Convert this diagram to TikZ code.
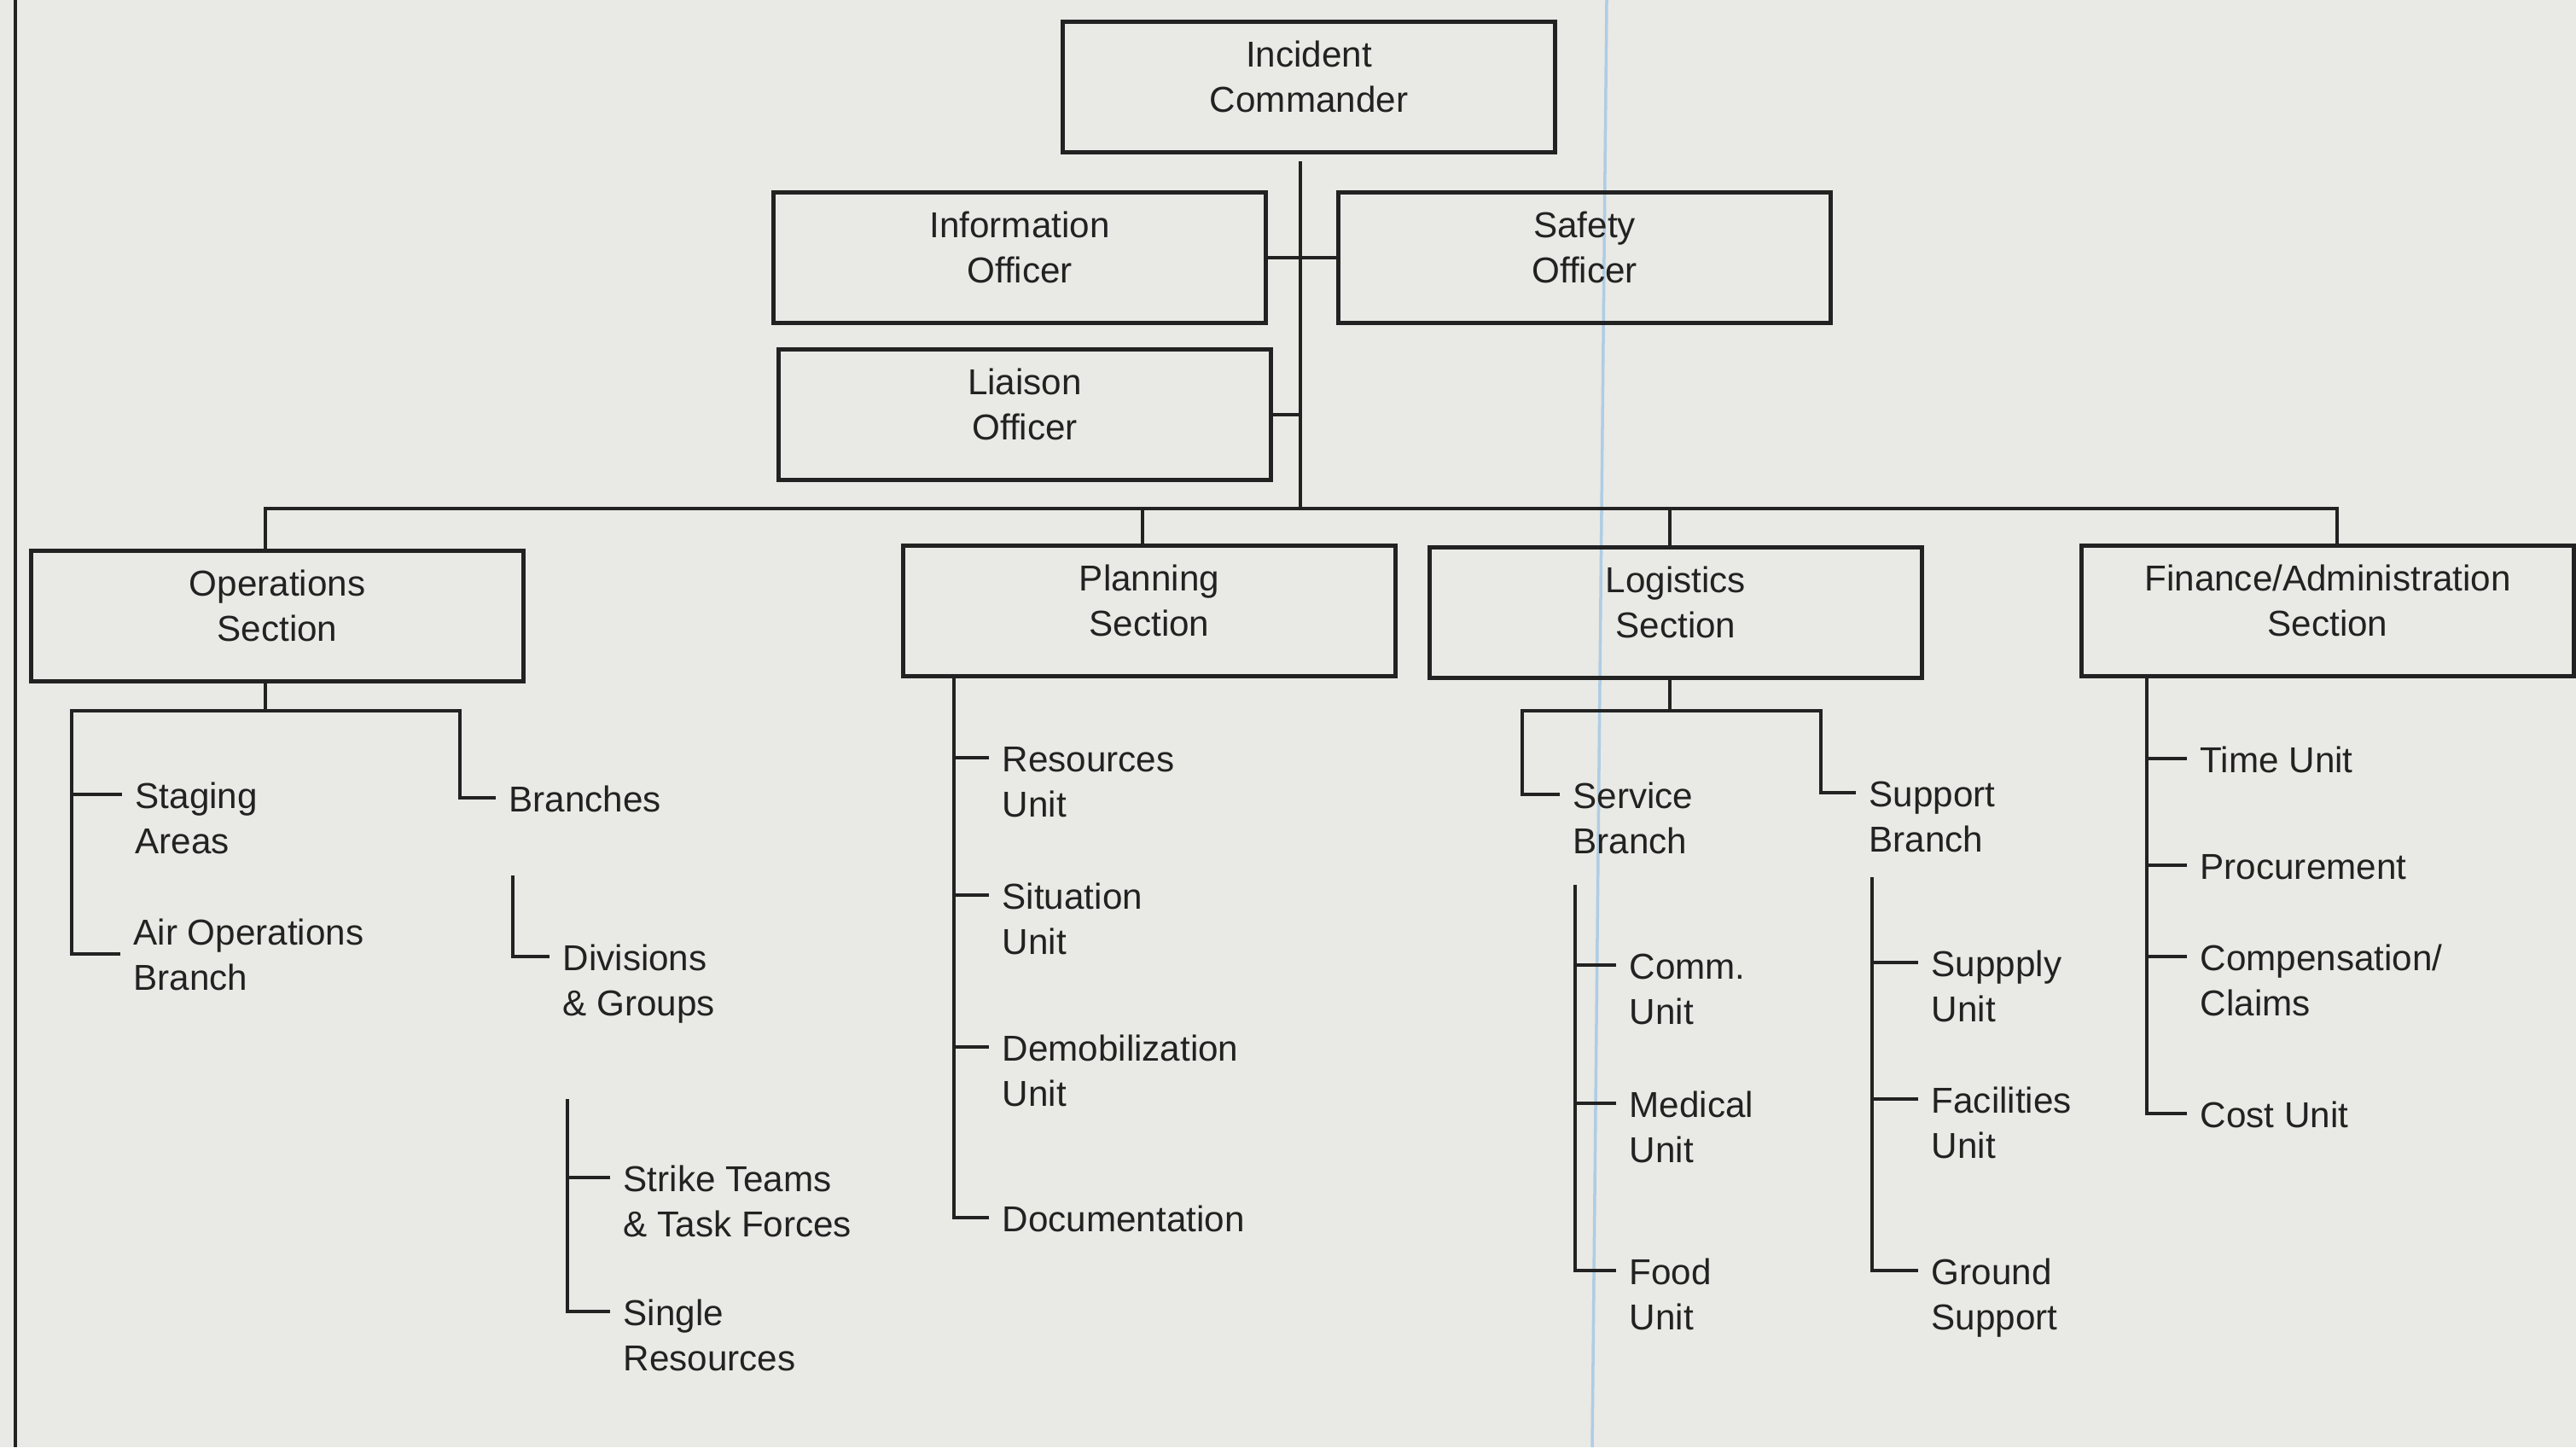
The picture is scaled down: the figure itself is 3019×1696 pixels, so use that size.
\documentclass[tikz,border=0pt]{standalone}
\usepackage{fontspec}
\setmainfont{Liberation Sans}
\usetikzlibrary{calc}
\definecolor{paper}{RGB}{233,233,229}
\definecolor{ink}{RGB}{34,34,34}
\definecolor{scanblue}{RGB}{175,205,228}
\newcommand\two[3][t]{\begin{tabular}[#1]{@{}l@{}}#2\\#3\end{tabular}}

\begin{document}
\begin{tikzpicture}[x=0.01cm,y=-0.01cm,
  box/.style={draw=ink,line width=1.4pt,minimum width=5.77cm,minimum height=1.53cm,
    inner sep=0pt,align=center,text=ink,font=\fontsize{12}{15}\selectfont,
    execute at end node={\rule[-0.25cm]{0pt}{0pt}}},
  leaf/.style={anchor=mid west,inner xsep=0.15cm,inner ysep=0pt,text=ink,
    font=\fontsize{12}{15}\selectfont},
  wire/.style={draw=ink,line width=1.3pt}]
\useasboundingbox (0,0) rectangle (3019,1696);
\fill[paper] (0,0) rectangle (3019,1696);
\draw[scanblue,line width=1pt] (1883,0) -- (1866,1696);
\draw[ink,line width=1.3pt] (18,0) -- (18,1696);

\node[box] (ic) at (1534,102) {Incident\\Commander};
\node[box] (info) at (1195,302) {Information\\Officer};
\node[box] (safe) at (1857,302) {Safety\\Officer};
\node[box] (liai) at (1201,486) {Liaison\\Officer};
\node[box] (ops) at (325,722) {Operations\\Section};
\node[box] (plan) at (1347,716) {Planning\\Section};
\node[box] (logi) at (1964,718) {Logistics\\Section};
\node[box] (fin) at (2728,716) {Finance/Administration\\Section};

\foreach \n/\x/\y/\t in {stag/143/931/{\two{Staging}{Areas}},
    air/141/1118/{\two[c]{Air Operations}{Branch}},
    bran/581/935/{Branches},
    divi/644/1121/{\two{Divisions}{\& Groups}},
    stri/715/1380/{\two{Strike Teams}{\& Task Forces}},
    sing/715/1537/{\two{Single}{Resources}},
    resu/1159/888/{\two{Resources}{Unit}},
    situ/1159/1049/{\two{Situation}{Unit}},
    demo/1159/1227/{\two{Demobilization}{Unit}},
    docu/1159/1427/{Documentation},
    serv/1828/931/{\two{Service}{Branch}},
    supp/2175/929/{\two{Support}{Branch}},
    comm/1894/1131/{\two{Comm.}{Unit}},
    medi/1894/1293/{\two{Medical}{Unit}},
    food/1894/1489/{\two{Food}{Unit}},
    sply/2248/1128/{\two{Suppply}{Unit}},
    faci/2248/1288/{\two{Facilities}{Unit}},
    grou/2248/1489/{\two{Ground}{Support}},
    time/2563/889/{Time Unit},
    proc/2563/1014/{Procurement},
    comp/2563/1121/{\two{Compensation/}{Claims}},
    cost/2563/1305/{Cost Unit}}{
  \node[leaf] (\n) at (\x,\y) {\raisebox{-0.07cm}{\t}};
}

\coordinate (trunk) at (1524,596);
\coordinate (oL) at (84,833);
\coordinate (oR) at (539,833);
\coordinate (lL) at (1784,833);
\coordinate (lR) at (2134,833);
\coordinate (pS) at (1118,0);
\coordinate (fS) at (2516,0);
\coordinate (dS) at (601,1026);
\coordinate (sS) at (665,1288);
\coordinate (cS) at (1846,1037);
\coordinate (uS) at (2194,1028);

\draw[wire] ([yshift=-0.08cm]ic.south -| trunk) -- (trunk);
\draw[wire] (info.east) -- (safe.west);
\draw[wire] (liai.east) -- (liai.east -| trunk);
\draw[wire] ([xshift=-0.14cm]ops.north) -- ([xshift=-0.14cm]ops.north |- trunk)
  -- ([xshift=0.11cm]fin.north |- trunk) -- ([xshift=0.11cm]fin.north);
\draw[wire] ([xshift=-0.08cm]plan.north) -- ([xshift=-0.08cm]plan.north |- trunk);
\draw[wire] ([xshift=-0.07cm]logi.north) -- ([xshift=-0.07cm]logi.north |- trunk);

\draw[wire] ([xshift=-0.14cm]ops.south) -- ([xshift=-0.14cm]ops.south |- oL);
\draw[wire] (air.mid west) -| (oL) -- (oR) |- (bran.mid west);
\draw[wire] (stag.mid west) -- (stag.mid west -| oL);
\draw[wire] (dS) |- (divi.mid west);
\draw[wire] (sS) |- (sing.mid west);
\draw[wire] (stri.mid west) -- (stri.mid west -| sS);

\draw[wire] (plan.south -| pS) |- (docu.mid west);
\foreach \n in {resu,situ,demo}{
  \draw[wire] (\n.mid west) -- (\n.mid west -| pS);
}

\draw[wire] ([xshift=-0.07cm]logi.south) -- ([xshift=-0.07cm]logi.south |- lL);
\draw[wire] (serv.mid west) -| (lL) -- (lR) |- (supp.mid west);
\draw[wire] (cS) |- (food.mid west);
\draw[wire] (uS) |- (grou.mid west);
\foreach \n in {comm,medi}{
  \draw[wire] (\n.mid west) -- (\n.mid west -| cS);
}
\foreach \n in {sply,faci}{
  \draw[wire] (\n.mid west) -- (\n.mid west -| uS);
}

\draw[wire] (fin.south -| fS) |- (cost.mid west);
\foreach \n in {time,proc,comp}{
  \draw[wire] (\n.mid west) -- (\n.mid west -| fS);
}
\end{tikzpicture}
\end{document}
